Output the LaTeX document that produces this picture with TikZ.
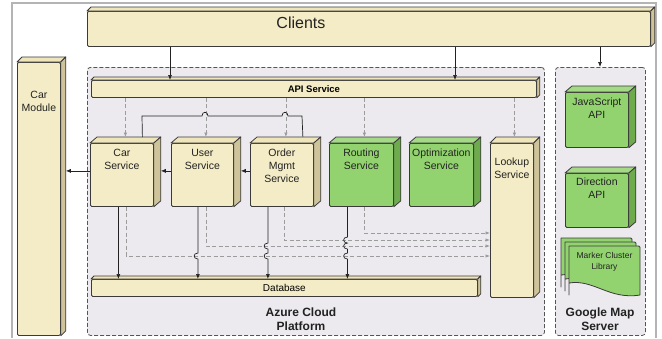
\documentclass[tikz,border=0pt]{standalone}
\usepackage{fontspec}
\setmainfont{Liberation Sans}
\usetikzlibrary{arrows.meta,calc}
\definecolor{edgec}{HTML}{3A3A3A}
\definecolor{beige}{HTML}{F4ECC6}
\definecolor{beigetop}{HTML}{EFE5BB}
\definecolor{beigeside}{HTML}{CFC499}
\definecolor{greenf}{HTML}{93D36F}
\definecolor{greentop}{HTML}{A4DA86}
\definecolor{greenside}{HTML}{6EAB4D}
\definecolor{panel}{HTML}{ECEAEE}
\definecolor{panelline}{HTML}{555555}
\definecolor{framec}{HTML}{B4B4B4}
\definecolor{txt}{HTML}{222222}
\definecolor{dashc}{HTML}{9C9C9C}
\tikzset{
  face/.style={draw=edgec, line width=0.8pt, line join=round},
  frontbox/.style={face, rounded corners=1.2pt, inner sep=0pt, anchor=north west},
  beigebox/.style={frontbox, fill=beige},
  greenbox/.style={frontbox, fill=greenf},
  panelbox/.style={draw=panelline, fill=panel, line width=0.8pt, dash pattern=on 4pt off 2pt, rounded corners=3pt, inner sep=0pt, anchor=north west},
  svc/.style={anchor=north, inner sep=0pt, align=center, text=txt, font=\fontsize{10.5}{13}\selectfont},
  small/.style={inner sep=0pt, align=center, text=txt, font=\fontsize{8.5}{11}\selectfont},
  title/.style={inner sep=0pt, align=center, text=txt, font=\bfseries\fontsize{12}{14}\selectfont},
  arr/.style={draw=txt, line width=0.7pt, -{Latex[length=5pt,width=4pt]}},
  plain/.style={draw=txt, line width=0.7pt},
  darr/.style={draw=dashc, line width=0.7pt, dash pattern=on 4pt off 2.5pt, -{Latex[length=4.5pt,width=3.5pt]}},
}
\newcommand\solidfaces[5]{%
  \draw[face, fill=#4] (#1.north west) -- ++(#2,-#3) -- ([shift={(#2,-#3)}]#1.north east) -- (#1.north east) -- cycle;
  \draw[face, fill=#5] (#1.north east) -- ([shift={(#2,-#3)}]#1.north east) -- ([shift={(#2,-#3)}]#1.south east) -- (#1.south east) -- cycle;
}
\newcommand\docshape[2]{%
  \draw[face, fill=greenf] (#1,#2+49) -- (#1,#2) [rounded corners=1.2pt] -- (#1+71,#2) [sharp corners] -- (#1+71,#2+49) .. controls (#1+40,#2+54) and (#1+25,#2+33) .. (#1,#2+37) -- cycle;
}
\begin{document}
\begin{tikzpicture}[x=1pt,y=-1pt]
\useasboundingbox (0,0) rectangle (662,338);
\fill[white] (0,0) rectangle (662,338);
\draw[framec, line width=1.5pt] (12,338) -- (12,3) -- (656,3) -- (656,338);

% containers
\node[panelbox, minimum width=457pt, minimum height=268pt] (azure) at (87,67) {};
\node[panelbox, minimum width=90pt, minimum height=268pt] (gms) at (555,67) {};
\node[title] (azlbl) at (301,319) {Azure Cloud\\Platform};
\node[title] (gmlbl) at (600,319) {Google Map\\Server};

% clients
\node[beigebox, minimum width=563pt, minimum height=35pt,
  label={[anchor=center, inner sep=0pt, text=txt, font=\fontsize{16}{18}\selectfont, xshift=-68pt, yshift=-12pt]north:Clients}] (clients) at (87,11) {};
\solidfaces{clients}{4}{4}{beigetop}{beigeside}

% car module
\node[beigebox, minimum width=43pt, minimum height=273pt,
  label={[svc, yshift=-29pt]north:Car\\Module}] (carmod) at (17,62) {};
\solidfaces{carmod}{5}{5}{beigetop}{beigeside}

% api service
\node[beigebox, minimum width=445pt, minimum height=17pt, font=\bfseries\fontsize{9.5}{11}\selectfont] (api) at (91,80) {API Service};
\solidfaces{api}{3}{3}{beigetop}{beigeside}

% services
\node[beigebox, minimum width=63pt, minimum height=63pt, label={[svc, yshift=-6pt]north:Car\\Service}] (car) at (90,143) {};
\solidfaces{car}{7}{6}{beigetop}{beigeside}
\node[beigebox, minimum width=62pt, minimum height=63pt, label={[svc, yshift=-6pt]north:User\\Service}] (user) at (171,143) {};
\solidfaces{user}{7}{6}{beigetop}{beigeside}
\node[beigebox, minimum width=63pt, minimum height=63pt, label={[svc, yshift=-6pt]north:Order\\Mgmt\\Service}] (order) at (250,143) {};
\solidfaces{order}{7}{6}{beigetop}{beigeside}
\node[greenbox, minimum width=64pt, minimum height=63pt, label={[svc, yshift=-6pt]north:Routing\\Service}] (routing) at (329,143) {};
\solidfaces{routing}{7}{6}{greentop}{greenside}
\node[greenbox, minimum width=64pt, minimum height=63pt, label={[svc, yshift=-6pt]north:Optimization\\Service}] (optim) at (409,143) {};
\solidfaces{optim}{7}{6}{greentop}{greenside}
\node[beigebox, minimum width=43pt, minimum height=154pt, label={[svc, yshift=-15pt]north:Lookup\\Service}] (lookup) at (490,143) {};
\solidfaces{lookup}{6}{6}{beigetop}{beigeside}

% database
\node[beigebox, minimum width=386pt, minimum height=17pt, font=\fontsize{10}{12}\selectfont] (db) at (91,279) {Database};
\solidfaces{db}{3}{3}{beigetop}{beigeside}

% google map items
\node[greenbox, minimum width=63pt, minimum height=55pt, label={[svc, yshift=-6pt]north:JavaScript\\API}] (js) at (565,92) {};
\solidfaces{js}{7}{6}{greentop}{greenside}
\node[greenbox, minimum width=63pt, minimum height=54pt, label={[svc, yshift=-5pt]north:Direction\\API}] (dir) at (565,173) {};
\solidfaces{dir}{7}{6}{greentop}{greenside}
\docshape{561}{238}
\docshape{565}{242}
\docshape{569}{246}
\node[small] (marker) at (604.5,261.5) {Marker Cluster\\Library};

% clients arrows
\draw[arr] (170,0 |- clients.south) -- (170,0 |- api.north);
\draw[arr] (455,0 |- clients.south) -- (455,0 |- api.north);
\draw[arr] (600,0 |- clients.south) -- (600,0 |- gms.north);

% api dashed arrows
\draw[darr] ([xshift=3.5pt]car.north |- api.south) -- ([shift={(3.5,-6)}]car.north);
\draw[darr] ([xshift=3.5pt]user.north |- api.south) -- ([shift={(3.5,-6)}]user.north);
\draw[darr] ([xshift=4pt]order.north |- api.south) -- ([shift={(4,-6)}]order.north);
\draw[darr] ([xshift=3pt]routing.north |- api.south) -- ([shift={(3,-6)}]routing.north);
\draw[darr] ([xshift=2.5pt]lookup.north |- api.south) -- ([shift={(2.5,-6)}]lookup.north);

% top link car - order
\draw[plain] ([shift={(20.5,-6)}]car.north) -- (142,116) -- (202,116)
  .. controls +(0,-5) and +(0,-5) .. (208,116) -- (282,116)
  .. controls +(0,-5) and +(0,-5) .. (288,116) -- (302,116) -- ([shift={(21,-6)}]order.north);

% horizontal arrows
\coordinate (cw) at ([yshift=4pt]car.west);
\coordinate (uw) at ([yshift=4pt]user.west);
\coordinate (ow) at ([yshift=4pt]order.west);
\draw[arr] (cw) -- ([xshift=5pt]carmod.east |- cw);
\draw[arr] (uw) -- ([xshift=7pt]car.east |- uw);
\draw[arr] (ow) -- ([xshift=7pt]user.east |- ow);

% dashed to lookup
\draw[darr] ([xshift=4.5pt]car.south) |- (lookup.west |- 0,256);
\draw[darr] ([xshift=3.5pt]user.south) |- (lookup.west |- 0,246);
\draw[darr] ([xshift=2pt]order.south) |- (lookup.west |- 0,240);
\draw[darr] ([xshift=3pt]routing.south) |- (lookup.west |- 0,233);

% solid to database
\coordinate (cs) at ([xshift=-3.5pt]car.south);
\coordinate (us) at ([xshift=-4.5pt]user.south);
\coordinate (os) at ([xshift=-14pt]order.south);
\coordinate (rs) at ([xshift=-14pt]routing.south);
\draw[arr] (cs) -- (cs |- db.north);
\draw[arr] (us) -- (us |- 0,253) .. controls +(-5,0) and +(-5,0) .. (us |- 0,259) -- (us |- db.north);
\draw[arr] (os) -- (os |- 0,243) .. controls +(-5,0) and +(-5,0) .. (os |- 0,249)
  -- (os |- 0,253) .. controls +(-5,0) and +(-5,0) .. (os |- 0,259) -- (os |- db.north);
\draw[arr] (rs) -- (rs |- 0,237) .. controls +(-5,0) and +(-5,0) .. (rs |- 0,243)
  .. controls +(-5,0) and +(-5,0) .. (rs |- 0,249)
  -- (rs |- 0,253) .. controls +(-5,0) and +(-5,0) .. (rs |- 0,259) -- (rs |- db.north);
\end{tikzpicture}
\end{document}
